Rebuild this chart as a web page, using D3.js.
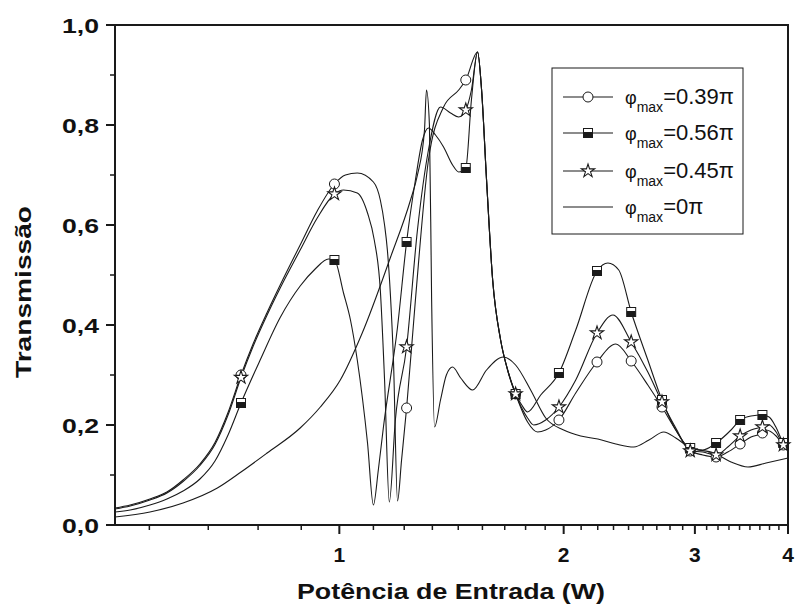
<!DOCTYPE html>
<html><head><meta charset="utf-8">
<script src="https://cdn.jsdelivr.net/npm/d3@7"></script>
<style>body{margin:0;background:#fff}svg{display:block}</style>
</head><body>
<svg id="chart" width="795" height="606"></svg>
<script>
// ---------- data ----------
const xTickValues = [1, 2, 3, 4];
const xTickLabels = ["1", "2", "3", "4"];
const xMinorTicks = [0.556, 0.667, 0.778, 0.889,
  1.111, 1.222, 1.333, 1.444, 1.556, 1.667, 1.778, 1.889,
  2.111, 2.222, 2.333, 2.444, 2.556, 2.667, 2.778, 2.889,
  3.111, 3.222, 3.333, 3.444, 3.556, 3.667, 3.778, 3.889];
const yTickValues = [0, 0.2, 0.4, 0.6, 0.8, 1.0];
const yTickLabels = ["0,0", "0,2", "0,4", "0,6", "0,8", "1,0"];
const yMinorTicks = [0.1, 0.3, 0.5, 0.7, 0.9];

const seriesNames = ["0.39π", "0.56π", "0.45π", "0π"];
const markerX = [0.738, 0.985, 1.231, 1.478, 1.724, 1.971, 2.217, 2.464, 2.710, 2.957, 3.203, 3.450, 3.696, 3.943];

// φmax = 0.39π (circles)
const p039CurveX = [0.500, 0.524, 0.557, 0.587, 0.617, 0.650, 0.681, 0.709, 0.766, 0.800, 0.833, 0.886, 0.934, 1.019, 1.057, 1.111, 1.135, 1.150, 1.160, 1.171, 1.182, 1.197, 1.212, 1.265, 1.317, 1.380, 1.446, 1.533, 1.552, 1.576, 1.606, 1.646, 1.682, 1.789, 1.845, 1.892, 2.076, 2.350, 2.594, 2.828, 3.074, 3.321, 3.568, 3.738, 3.856, 4.0];
const p039CurveY = [0.034, 0.040, 0.052, 0.066, 0.090, 0.122, 0.165, 0.225, 0.362, 0.425, 0.480, 0.560, 0.628, 0.700, 0.704, 0.686, 0.650, 0.600, 0.550, 0.460, 0.330, 0.048, 0.130, 0.450, 0.730, 0.836, 0.870, 0.946, 0.870, 0.690, 0.490, 0.370, 0.310, 0.206, 0.186, 0.190, 0.264, 0.362, 0.280, 0.190, 0.140, 0.146, 0.176, 0.190, 0.178, 0.154];
const p039MarkY = [0.300, 0.682, 0.234, 0.890, 0.262, 0.210, 0.326, 0.328, 0.236, 0.148, 0.136, 0.162, 0.184, 0.160];

// φmax = 0.56π (half-filled squares)
const p056CurveX = [0.500, 0.524, 0.557, 0.587, 0.617, 0.650, 0.681, 0.709, 0.783, 0.833, 0.886, 0.928, 0.967, 1.013, 1.035, 1.057, 1.091, 1.111, 1.128, 1.146, 1.197, 1.265, 1.293, 1.317, 1.346, 1.380, 1.419, 1.446, 1.504, 1.533, 1.552, 1.576, 1.606, 1.646, 1.682, 1.757, 1.789, 1.863, 2.076, 2.293, 2.371, 2.594, 2.828, 3.074, 3.354, 3.568, 3.773, 3.856, 4.0];
const p056CurveY = [0.026, 0.030, 0.040, 0.052, 0.068, 0.092, 0.128, 0.180, 0.330, 0.415, 0.478, 0.512, 0.532, 0.464, 0.410, 0.330, 0.164, 0.040, 0.110, 0.196, 0.396, 0.690, 0.770, 0.794, 0.780, 0.756, 0.720, 0.706, 0.850, 0.946, 0.870, 0.690, 0.490, 0.370, 0.310, 0.240, 0.226, 0.260, 0.390, 0.524, 0.510, 0.330, 0.190, 0.150, 0.190, 0.218, 0.216, 0.195, 0.156];
const p056MarkY = [0.244, 0.530, 0.566, 0.714, 0.262, 0.304, 0.508, 0.426, 0.250, 0.154, 0.164, 0.210, 0.220, 0.164];

// φmax = 0.45π (stars)
const p045CurveX = [0.500, 0.524, 0.557, 0.587, 0.617, 0.650, 0.681, 0.709, 0.766, 0.800, 0.833, 0.886, 0.934, 1.013, 1.057, 1.091, 1.114, 1.135, 1.150, 1.167, 1.189, 1.273, 1.317, 1.367, 1.410, 1.446, 1.504, 1.533, 1.552, 1.576, 1.606, 1.646, 1.682, 1.789, 1.823, 1.892, 2.076, 2.329, 2.594, 2.828, 3.074, 3.321, 3.568, 3.773, 3.856, 4.0];
const p045CurveY = [0.032, 0.038, 0.050, 0.064, 0.087, 0.119, 0.161, 0.220, 0.357, 0.420, 0.474, 0.550, 0.614, 0.670, 0.664, 0.624, 0.570, 0.470, 0.290, 0.046, 0.210, 0.590, 0.750, 0.836, 0.824, 0.816, 0.870, 0.946, 0.870, 0.690, 0.490, 0.370, 0.310, 0.214, 0.200, 0.210, 0.290, 0.420, 0.306, 0.194, 0.146, 0.156, 0.190, 0.200, 0.186, 0.154];
const p045MarkY = [0.295, 0.662, 0.356, 0.830, 0.262, 0.236, 0.384, 0.366, 0.246, 0.148, 0.140, 0.178, 0.196, 0.160];

// φmax = 0π (plain line)
const p0CurveX = [0.500, 0.557, 0.617, 0.686, 0.738, 0.800, 0.886, 0.943, 1.003, 1.074, 1.171, 1.246, 1.273, 1.301, 1.309, 1.321, 1.330, 1.342, 1.367, 1.392, 1.419, 1.455, 1.510, 1.576, 1.661, 1.724, 1.806, 1.892, 2.000, 2.108, 2.223, 2.350, 2.484, 2.603, 2.725, 2.828, 2.962, 3.182, 3.354, 3.535, 3.738, 4.0];
const p0CurveY = [0.016, 0.026, 0.044, 0.074, 0.106, 0.144, 0.194, 0.236, 0.290, 0.385, 0.535, 0.650, 0.700, 0.790, 0.870, 0.800, 0.450, 0.196, 0.250, 0.300, 0.316, 0.294, 0.270, 0.310, 0.336, 0.320, 0.270, 0.214, 0.190, 0.178, 0.172, 0.162, 0.156, 0.170, 0.186, 0.174, 0.154, 0.144, 0.126, 0.116, 0.124, 0.134];

// ---------- drawing ----------
const svg = d3.select("#chart");
const L = 115, R = 788, T = 25, B = 525;
const x = d3.scaleLog().domain([0.5, 4]).range([L, R]);
const y = d3.scaleLinear().domain([0, 1]).range([B, T]);
const ink = "#1a1a1a";
const font = "Arial, 'Liberation Sans', Helvetica, sans-serif";

function merge(cx, cy, mx, my) {
  const pts = cx.map((v, i) => [v, cy[i]]);
  if (mx) mx.forEach((v, i) => pts.push([v, my[i]]));
  pts.sort((a, b) => a[0] - b[0]);
  return pts;
}
const series = [
  {name: seriesNames[0], pts: merge(p039CurveX, p039CurveY, markerX, p039MarkY), marks: markerX.map((v, i) => [v, p039MarkY[i]]), sym: "circle"},
  {name: seriesNames[1], pts: merge(p056CurveX, p056CurveY, markerX, p056MarkY), marks: markerX.map((v, i) => [v, p056MarkY[i]]), sym: "square"},
  {name: seriesNames[2], pts: merge(p045CurveX, p045CurveY, markerX, p045MarkY), marks: markerX.map((v, i) => [v, p045MarkY[i]]), sym: "star"},
  {name: seriesNames[3], pts: merge(p0CurveX, p0CurveY), marks: [], sym: null}
];

const line = d3.line().x(d => x(d[0])).y(d => y(d[1])).curve(d3.curveMonotoneX);

svg.append("defs").append("clipPath").attr("id", "clip")
  .append("rect").attr("x", L).attr("y", T).attr("width", R - L).attr("height", B - T);

const plot = svg.append("g").attr("clip-path", "url(#clip)");
series.forEach(s => {
  plot.append("path").attr("d", line(s.pts)).attr("fill", "none")
    .attr("stroke", ink).attr("stroke-width", 1.1).attr("stroke-linejoin", "round");
});

function drawMarker(g, sym, cx, cy) {
  if (sym === "circle") {
    g.append("circle").attr("cx", cx).attr("cy", cy).attr("r", 5)
      .attr("fill", "#fff").attr("stroke", ink).attr("stroke-width", 1);
  } else if (sym === "square") {
    g.append("rect").attr("x", cx - 4.5).attr("y", cy - 4.5).attr("width", 9).attr("height", 9)
      .attr("fill", "#fff").attr("stroke", ink).attr("stroke-width", 1);
    g.append("rect").attr("x", cx - 4.5).attr("y", cy - 1).attr("width", 9).attr("height", 5.5)
      .attr("fill", ink);
  } else if (sym === "star") {
    g.append("path").attr("d", d3.symbol().type(d3.symbolStar).size(55)())
      .attr("transform", `translate(${cx},${cy})`)
      .attr("fill", "#fff").attr("stroke", ink).attr("stroke-width", 1.1);
  }
}
const mk = svg.append("g");
series.forEach(s => s.marks.forEach(d => drawMarker(mk, s.sym, x(d[0]), y(d[1]))));

// frame
const ax = svg.append("g").attr("stroke", ink).attr("fill", "none");
ax.append("rect").attr("x", L).attr("y", T).attr("width", R - L).attr("height", B - T).attr("stroke-width", 2);
xTickValues.forEach(v => ax.append("line").attr("x1", x(v)).attr("x2", x(v)).attr("y1", B).attr("y2", B + 9).attr("stroke-width", 2));
xMinorTicks.forEach(v => ax.append("line").attr("x1", x(v)).attr("x2", x(v)).attr("y1", B).attr("y2", B + 5).attr("stroke-width", 1.5));
yTickValues.forEach(v => ax.append("line").attr("x1", L - 9).attr("x2", L).attr("y1", y(v)).attr("y2", y(v)).attr("stroke-width", 2));
yMinorTicks.forEach(v => ax.append("line").attr("x1", L - 5).attr("x2", L).attr("y1", y(v)).attr("y2", y(v)).attr("stroke-width", 1.5));

const txt = svg.append("g").attr("font-family", font).attr("fill", "#111");
xTickValues.forEach((v, i) => txt.append("text").attr("x", x(v)).attr("y", 562)
  .attr("text-anchor", "middle").attr("font-size", 21).attr("font-weight", "bold").text(xTickLabels[i]));
yTickValues.forEach((v, i) => txt.append("text").attr("x", 99).attr("y", y(v) + 7.5)
  .attr("text-anchor", "end").attr("font-size", 21).attr("font-weight", "bold")
  .attr("textLength", 37).attr("lengthAdjust", "spacingAndGlyphs").text(yTickLabels[i]));

txt.append("text").attr("x", 451).attr("y", 599).attr("text-anchor", "middle")
  .attr("font-size", 22).attr("font-weight", "bold")
  .attr("textLength", 308).attr("lengthAdjust", "spacingAndGlyphs").text("Potência de Entrada (W)");
txt.append("text").attr("transform", "translate(31,292) rotate(-90)").attr("text-anchor", "middle")
  .attr("font-size", 22).attr("font-weight", "bold")
  .attr("textLength", 172).attr("lengthAdjust", "spacingAndGlyphs").text("Transmissão");

// legend
const lg = svg.append("g");
lg.append("rect").attr("x", 552).attr("y", 68).attr("width", 191).attr("height", 166)
  .attr("fill", "#fff").attr("stroke", ink).attr("stroke-width", 1);
const rowY = [97, 133, 171, 207];
series.forEach((s, i) => {
  lg.append("line").attr("x1", 563).attr("x2", 613).attr("y1", rowY[i]).attr("y2", rowY[i])
    .attr("stroke", ink).attr("stroke-width", 1.1);
  if (s.sym) drawMarker(lg, s.sym, 588, rowY[i]);
  const t = lg.append("text").attr("x", 625).attr("y", rowY[i] + 7)
    .attr("font-family", font).attr("font-size", 22).attr("fill", "#111");
  t.append("tspan").attr("font-size", 18).text("φ");
  t.append("tspan").attr("font-size", 14).attr("dy", 8).text("max");
  t.append("tspan").attr("dy", -8).text("=" + s.name);
});
</script>
</body></html>
